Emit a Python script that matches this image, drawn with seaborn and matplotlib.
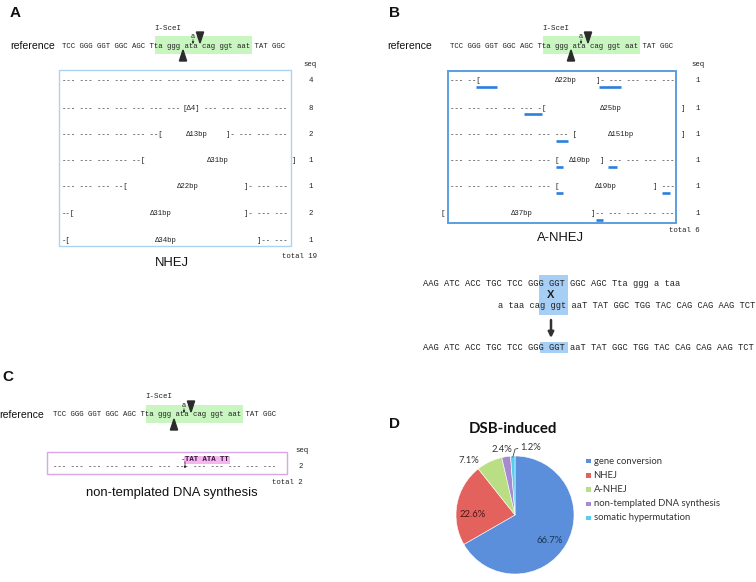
import numpy as np
import pandas as pd
import matplotlib
matplotlib.use("Agg")
import matplotlib.pyplot as plt
import seaborn as sns
from matplotlib.patches import Rectangle, Polygon

# ---------------- data ----------------
ref_seq = "TCC GGG GGT GGC AGC Tta ggg ata cag ggt aat TAT GGC"
site_label = "I-SceI"
site_base = "a"
full_row = "--- --- --- --- --- --- --- --- --- --- --- --- ---"

nhej_left = ["--- --- --- --- --- --- --- --- --- --- --- --- ---",
             "--- --- --- --- --- --- ---",
             "--- --- --- --- --- --[",
             "--- --- --- --- --[",
             "--- --- --- --[",
             "--[",
             "-["]
nhej_del = ["", "[Δ4]", "Δ13bp", "Δ31bp", "Δ22bp", "Δ31bp", "Δ34bp"]
nhej_right = ["", "--- --- --- --- ---", "]- --- --- ---", "", "]- --- ---",
              "]- --- ---", "]-- ---"]
nhej_outer_right = ["", "", "", "]", "", "", ""]
nhej_counts = [4, 8, 2, 1, 1, 2, 1]
nhej_total = 19

anhej_left = ["--- --[", "--- --- --- --- --- -[", "--- --- --- --- --- --- --- [",
              "--- --- --- --- --- --- [", "--- --- --- --- --- --- [", ""]
anhej_del = ["Δ22bp", "Δ25bp", "Δ151bp", "Δ10bp", "Δ19bp", "Δ37bp"]
anhej_right = ["]- --- --- --- ---", "", "", "] --- --- --- ---", "] ---",
               "]-- --- --- --- ---"]
anhej_outer_left = ["", "", "", "", "", "["]
anhej_outer_right = ["", "]", "]", "", "", ""]
anhej_counts = [1, 1, 1, 1, 1, 1]
anhej_total = 6

donor_top = "AAG ATC ACC TGC TCC GGG GGT GGC AGC Tta ggg a taa"
donor_bottom = "a taa cag ggt aaT TAT GGC TGG TAC CAG CAG AAG TCT"
product_seq = "AAG ATC ACC TGC TCC GGG GGT aaT TAT GGC TGG TAC CAG CAG AAG TCT"

ntds_insert = "TAT ATA TT"
ntds_counts = [2]
ntds_total = 2

pie_title = "DSB-induced"
pie_labels = ["gene conversion", "NHEJ", "A-NHEJ",
              "non-templated DNA synthesis", "somatic hypermutation"]
pie_values = [66.7, 22.6, 7.1, 2.4, 1.2]
pie_colors = ["#5b8fdc", "#e4625e", "#b9de84", "#a58ad0", "#58cdef"]

# ---------------- layout / style ----------------
sns.set_theme(style="white")
plt.rcParams["font.family"] = ["Liberation Sans", "DejaVu Sans"]

MONO = "Liberation Mono"
MS = 5.3          # mono size (pt)
CW = MS * 100 / 72 * 0.6   # char width (px)
TXT = "#222222"

fig = plt.figure(figsize=(7.56, 5.82), dpi=100)
fig.patch.set_facecolor("white")
ax = fig.add_axes([0, 0, 1, 1])
ax.set_xlim(0, 756)
ax.set_ylim(582, 0)
ax.axis("off")


def mono(x, y, s, ha="left", size=MS, weight="normal", color=TXT, z=3):
    ax.text(x, y, s, family=MONO, fontsize=size, ha=ha, va="center",
            color=color, fontweight=weight, zorder=z)


def reference_block(ref_x, seq_x, y):
    ax.text(ref_x, y, "reference", fontsize=7.6, ha="left", va="center", color="#111")
    ax.add_patch(Rectangle((seq_x + 92.5, y - 10), 97.5, 17.5,
                           facecolor="#c8f5c0", edgecolor="none", zorder=1))
    mono(seq_x, y, ref_seq)
    mono(seq_x + 106, y - 18, site_label, ha="center", size=5.4)
    # cut triangles
    dx = seq_x + 138
    ax.add_patch(Polygon([[dx - 3.6, y - 14], [dx + 3.6, y - 14], [dx, y - 3]],
                         closed=True, color="#2b2b2b", zorder=4))
    ux = seq_x + 121
    ax.add_patch(Polygon([[ux, y + 4], [ux - 3.6, y + 15], [ux + 3.6, y + 15]],
                         closed=True, color="#2b2b2b", zorder=4))
    bx = seq_x + 131
    mono(bx, y - 9.5, site_base, ha="center", size=5.0)
    ax.annotate("", xy=(bx, y - 2), xytext=(bx, y - 6.5),
                arrowprops=dict(arrowstyle="-|>", lw=0.5, color="#222",
                                mutation_scale=3, shrinkA=0, shrinkB=0))


# panel letters
for lab, (lx, ly) in zip("ABCD", [(15, 13), (395, 13), (7.5, 377), (395, 424)]):
    ax.text(lx, ly, lab, fontsize=11, fontweight="bold", ha="center", va="center", color="#111")

# ---------- Panel A ----------
reference_block(10, 62, 46)
ax.add_patch(Rectangle((59, 70), 232, 176, facecolor="none",
                       edgecolor="#a9d6ee", lw=1.0, zorder=2))
mono(310, 65, "seq", ha="center")
a_rows_y = [81, 108, 134.5, 161, 187, 213.5, 240]
a_del_x = [0, 191, 197, 218, 188, 161, 166]
for i, y in enumerate(a_rows_y):
    if nhej_left[i]:
        mono(61.5, y, nhej_left[i])
    if nhej_del[i]:
        mono(a_del_x[i], y, nhej_del[i], ha="center")
    if nhej_right[i]:
        mono(287.5, y, nhej_right[i], ha="right")
    if nhej_outer_right[i]:
        mono(293, y, nhej_outer_right[i], ha="center")
    mono(311, y, str(nhej_counts[i]), ha="center")
mono(317, 256, f"total {nhej_total}", ha="right")
ax.text(172, 263, "NHEJ", fontsize=9.4, ha="center", va="center", color="#111")

# ---------- Panel B ----------
reference_block(387, 450, 46)
ax.add_patch(Rectangle((448, 71), 228, 152, facecolor="none",
                       edgecolor="#5b9ee0", lw=1.4, zorder=2))
mono(698, 64, "seq", ha="center")
b_rows_y = [81, 108, 134.5, 161, 187, 213.5]
b_del_x = [566, 611, 621, 580, 606, 522]
b_micro = [[(476, 497), (599, 621)], [(524, 542)], [(556, 568)],
           [(556, 563), (608, 617)], [(556, 563), (662, 670)], [(596, 603)]]
for i, y in enumerate(b_rows_y):
    if anhej_left[i]:
        mono(450, y, anhej_left[i])
    mono(b_del_x[i], y, anhej_del[i], ha="center")
    if anhej_right[i]:
        mono(674.5, y, anhej_right[i], ha="right")
    if anhej_outer_left[i]:
        mono(443, y, anhej_outer_left[i], ha="center")
    if anhej_outer_right[i]:
        mono(682, y, anhej_outer_right[i], ha="center")
    mono(698, y, str(anhej_counts[i]), ha="center")
    for (x0, x1) in b_micro[i]:
        ax.plot([x0, x1], [y + 6, y + 6], color="#2a80dc", lw=1.9,
                solid_capstyle="butt", zorder=4)
mono(700, 231, f"total {anhej_total}", ha="right")
ax.text(560, 238, "A-NHEJ", fontsize=9.4, ha="center", va="center", color="#111")

# recombination diagram
RS = 6.35
RW = RS * 100 / 72 * 0.6
ax.add_patch(Rectangle((539, 275), 29, 40, facecolor="#a7cff5", edgecolor="none", zorder=1))
ax.add_patch(Rectangle((539.5, 342), 28.5, 10.5, facecolor="#a7cff5", edgecolor="none", zorder=1))
mono(423, 284, donor_top, size=RS)
mono(498, 305, donor_bottom, size=RS)
mono(423, 347, product_seq, size=RS)
ax.text(551, 295, "X", fontsize=8, fontweight="bold", ha="center", va="center", color="#222")
ax.annotate("", xy=(551, 338), xytext=(551, 320),
            arrowprops=dict(arrowstyle="-|>", lw=1.8, color="#333",
                            mutation_scale=8, shrinkA=0, shrinkB=0))

# ---------- Panel C ----------
reference_block(-1, 53, 415)
ax.add_patch(Rectangle((47, 452), 240, 22, facecolor="none",
                       edgecolor="#d8a8e6", lw=1.0, zorder=2))
mono(302, 451, "seq", ha="center")
mono(53, 467, full_row)
ax.add_patch(Rectangle((184, 455.5), 46, 8, facecolor="#f5b5ef", edgecolor="none", zorder=1))
mono(185, 459.5, ntds_insert, weight="bold", color="#331a33")
mono(182.5, 459.5, "-", ha="center")
ax.annotate("", xy=(185, 468.5), xytext=(185, 461.5),
            arrowprops=dict(arrowstyle="-|>", lw=0.5, color="#222",
                            mutation_scale=3, shrinkA=0, shrinkB=0))
mono(301, 467, str(ntds_counts[0]), ha="center")
mono(303, 483, f"total {ntds_total}", ha="right")
ax.text(172, 493, "non-templated DNA synthesis", fontsize=9.4, ha="center",
        va="center", color="#111")

# ---------- Panel D (pie) ----------
ax.text(513, 429, pie_title, family=["Lato", "DejaVu Sans"], fontsize=10.8,
        fontweight="bold", ha="center", va="center", color="#111")
cx, cy, R = 515, 515, 59
pax = fig.add_axes([(cx - R) / 756, (582 - cy - R) / 582, 2 * R / 756, 2 * R / 582])
wedges, _ = pax.pie(pie_values, colors=pie_colors, startangle=90, counterclock=False,
                    radius=1, wedgeprops=dict(edgecolor="white", linewidth=0.4))
pax.set_xlim(-1, 1)
pax.set_ylim(-1, 1)
pax.axis("off")

lab_r = [0.73, 0.72, 1.21, 1.14, 1.17]
lab_shift = [-5.6, 9.5, 15.0, 2.5, -15.0]
lab_col = ["#1c3556", "#4a1714", "#333333", "#333333", "#333333"]
for i, w in enumerate(wedges):
    mid = (w.theta1 + w.theta2) / 2
    a = np.deg2rad(mid + lab_shift[i])
    pax.text(lab_r[i] * np.cos(a), lab_r[i] * np.sin(a), f"{pie_values[i]:.1f}%",
             family=["Lato", "DejaVu Sans"], fontsize=6.8, ha="center", va="center",
             color=lab_col[i], clip_on=False)
# leader line for smallest slice
w = wedges[-1]
m = np.deg2rad((w.theta1 + w.theta2) / 2)
p0 = (np.cos(m) * 0.98, np.sin(m) * 0.98)
p1 = (0.0, 1.115)
p2 = (0.05, 1.13)
pax.plot([p0[0], p1[0], p2[0]], [p0[1], p1[1], p2[1]], color="#444", lw=0.6,
         clip_on=False)

# legend
leg_y = [461, 475.5, 489.5, 504, 518]
for i, lab in enumerate(pie_labels):
    ax.scatter([588.5], [leg_y[i]], marker="s", s=12, color=pie_colors[i],
               edgecolor="none", zorder=3)
    ax.text(593.5, leg_y[i], lab, family=["Lato", "DejaVu Sans"], fontsize=6.8,
            ha="left", va="center", color="#333")

fig.savefig("out.png", dpi=100, facecolor="white")
